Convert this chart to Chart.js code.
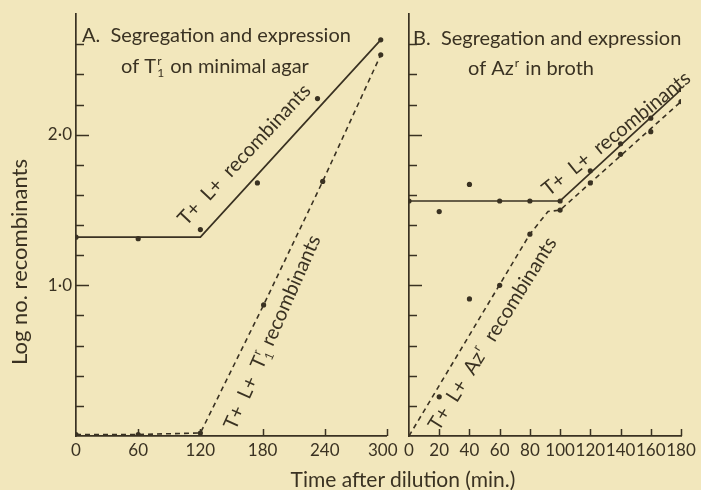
<!DOCTYPE html>
<html>
<head>
<meta charset="utf-8">
<script src="https://cdn.jsdelivr.net/npm/chart.js@4"></script>
<style>
	body { margin: 0; background: #f2e7bc; }
	#wrap { position: relative; width: 701px; height: 490px; background: #f2e7bc; overflow: hidden; }
	canvas { position: absolute; top: 0; }
	#chartA { left: 0; width: 410px; height: 490px; }
	#chartB { left: 390px; width: 311px; height: 490px; }
	#xtitle {
		position: absolute; left: 253px; width: 300px; top: 466px; line-height: 24px;
		text-align: center; white-space: nowrap;
		font: 21px Lato; color: #3a3222;
	}
</style>
</head>
<body>
<div id="wrap">
	<canvas id="chartA" width="410" height="490"></canvas>
	<canvas id="chartB" width="311" height="490"></canvas>
	<div id="xtitle">Time after dilution (min.)</div>
</div>
<script>
const ink = "#3a3222";
const fontName = "Lato";

// A. minimal agar - time (min.) and log no. recombinants
const aTicks = [0, 60, 120, 180, 240, 300];
const aTLTime = [0, 60, 120, 175, 233, 294];
const aTLLog = [1.32, 1.31, 1.37, 1.68, 2.24, 2.63];
const aTLFitTime = [0, 120, 294];
const aTLFitLog = [1.32, 1.32, 2.63];
const aT1Time = [0, 60, 120, 181, 238, 294];
const aT1Log = [0.01, 0.01, 0.02, 0.87, 1.69, 2.53];

// B. broth
const bTicks = [0, 20, 40, 60, 80, 100, 120, 140, 160, 180];
const bTLTime = [0, 20, 40, 60, 80, 100, 120, 140, 160, 180];
const bTLLog = [1.56, 1.49, 1.67, 1.56, 1.56, 1.56, 1.76, 1.94, 2.11, 2.30];
const bTLFitTime = [0, 100, 180];
const bTLFitLog = [1.56, 1.56, 2.30];
const bAzTime = [20, 40, 60, 80, 100, 120, 140, 160, 180];
const bAzLog = [0.26, 0.91, 1.00, 1.34, 1.50, 1.68, 1.87, 2.02, 2.22];
const bAzFitTime = [0, 80, 92, 100, 180];
const bAzFitLog = [0, 1.34, 1.49, 1.50, 2.22];

const yLabels = { 1: "1·0", 2: "2·0" };

Chart.defaults.font.family = fontName;
Chart.defaults.color = ink;

function pts(xs, ys) {
	return xs.map(function (x, i) {
		return { x: x, y: ys[i] };
	});
}

function isMajor(v) {
	return v > 0 && Math.abs(v - Math.round(v)) < 1e-6;
}

// text with stacked super/subscripts, e.g. T with 1 below and r above
function drawRich(ctx, parts, x, y, size, align) {
	const big = size + "px " + fontName;
	const small = Math.round(size * 0.62) + "px " + fontName;
	const widths = parts.map(function (p) {
		if (typeof p === "string") {
			ctx.font = big;
			return ctx.measureText(p).width;
		}
		ctx.font = small;
		const w1 = p.sup ? ctx.measureText(p.sup).width : 0;
		const w2 = p.sub ? ctx.measureText(p.sub).width : 0;
		return Math.max(w1, w2) + 2;
	});
	const total = widths.reduce(function (a, b) { return a + b; }, 0);
	let cx = align === "center" ? x - total / 2 : x;
	ctx.textAlign = "left";
	parts.forEach(function (p, i) {
		if (typeof p === "string") {
			ctx.font = big;
			ctx.fillText(p, cx, y);
		} else {
			ctx.font = small;
			if (p.sup) ctx.fillText(p.sup, cx + 1, y - size * 0.42);
			if (p.sub) ctx.fillText(p.sub, cx + 1, y + size * 0.22);
		}
		cx += widths[i];
	});
}

const inkPlugin = {
	id: "ink",
	afterDraw(chart, args, opts) {
		const ctx = chart.ctx;
		const area = chart.chartArea;
		const xs = chart.scales.x;
		const ys = chart.scales.y;
		ctx.save();
		ctx.strokeStyle = ink;
		ctx.fillStyle = ink;
		ctx.lineWidth = 1.5;

		// tick marks point inwards
		ys.ticks.forEach(function (t) {
			if (t.value <= 0 || t.value >= ys.max - 1e-6) return;
			const py = Math.round(ys.getPixelForValue(t.value)) + 0.5;
			const len = isMajor(t.value) ? 13 : 8;
			ctx.beginPath();
			ctx.moveTo(area.left, py);
			ctx.lineTo(area.left + len, py);
			ctx.stroke();
		});
		xs.ticks.forEach(function (t) {
			if (t.value <= xs.min) return;
			const px = Math.round(xs.getPixelForValue(t.value)) + 0.5;
			ctx.beginPath();
			ctx.moveTo(px, area.bottom);
			ctx.lineTo(px, area.bottom - 7);
			ctx.stroke();
		});

		ctx.textBaseline = "alphabetic";
		opts.heading.forEach(function (h) {
			drawRich(ctx, h.parts, area.left + h.dx, h.y, 20, h.align);
		});

		opts.labels.forEach(function (l) {
			const px = xs.getPixelForValue(l.at[0]);
			const py = ys.getPixelForValue(l.at[1]);
			ctx.save();
			ctx.translate(px, py);
			ctx.rotate(-l.angle * Math.PI / 180);
			drawRich(ctx, l.parts, 0, 7, 20, "center");
			ctx.restore();
		});

		if (opts.yTitle) {
			ctx.save();
			ctx.translate(20, 262);
			ctx.rotate(-Math.PI / 2);
			drawRich(ctx, [opts.yTitle], 0, 7, 22, "center");
			ctx.restore();
		}
		ctx.restore();
	},
};

function makeChart(id, cfg) {
	const datasets = [
		{
			data: cfg.tlFit,
			showLine: true,
			borderColor: ink,
			borderWidth: 1.7,
			pointRadius: 0,
		},
		{
			data: cfg.tlPoints,
			showLine: false,
			pointRadius: 2.6,
			pointBackgroundColor: ink,
			pointBorderWidth: 0,
		},
		{
			data: cfg.dashFit,
			showLine: true,
			borderColor: ink,
			borderWidth: 1.6,
			borderDash: [5, 4],
			pointRadius: 0,
		},
		{
			data: cfg.dashPoints,
			showLine: false,
			pointRadius: 2.6,
			pointBackgroundColor: ink,
			pointBorderWidth: 0,
		},
	];

	return new Chart(document.getElementById(id), {
		type: "scatter",
		data: { datasets: datasets },
		plugins: [inkPlugin],
		options: {
			responsive: false,
			animation: false,
			layout: { padding: { top: 12, right: cfg.padRight, bottom: 0, left: 0 } },
			scales: {
				x: {
					type: "linear",
					min: cfg.ticks[0],
					max: cfg.ticks[cfg.ticks.length - 1],
					afterBuildTicks: function (scale) {
						scale.ticks = cfg.ticks.map(function (v) { return { value: v }; });
					},
					afterFit: function (scale) { scale.height = 54; },
					grid: { display: false, drawTicks: false },
					border: { display: true, color: ink, width: 1.7 },
					ticks: {
						autoSkip: false,
						maxRotation: 0,
						padding: 4,
						color: ink,
						font: { size: 17 },
						callback: function (v) {
							// last label of panel A sits a little left, clear of panel B's 0
							return cfg.lastGap && v === cfg.ticks[cfg.ticks.length - 1]
								? v + "\u2002" : String(v);
						},
					},
				},
				y: {
					min: 0,
					max: 2.8,
					afterFit: function (scale) { scale.width = cfg.yWidth; },
					grid: { display: false, drawTicks: false },
					border: { display: true, color: ink, width: 1.7 },
					ticks: {
						stepSize: 0.2,
						padding: 4,
						color: ink,
						font: { size: 17 },
						callback: function (v) {
							if (!cfg.yLabels) return "";
							return yLabels[Math.round(v * 10) / 10] || "";
						},
					},
				},
			},
			plugins: {
				legend: { display: false },
				tooltip: { enabled: false },
				ink: {
					heading: cfg.heading,
					labels: cfg.labels,
					yTitle: cfg.yTitle,
				},
			},
		},
	});
}

makeChart("chartA", {
	ticks: aTicks,
	lastGap: true,
	padRight: 21,
	yWidth: 76,
	yLabels: true,
	yTitle: "Log no. recombinants",
	tlFit: pts(aTLFitTime, aTLFitLog),
	tlPoints: pts(aTLTime, aTLLog),
	dashFit: pts(aT1Time, aT1Log),
	dashPoints: pts(aT1Time, aT1Log),
	heading: [
		{ parts: ["A.  Segregation and expression"], dx: 6, y: 42, align: "left" },
		{ parts: ["of T", { sup: "r", sub: "1" }, " on minimal agar"], dx: 139, y: 73, align: "center" },
	],
	labels: [
		{ parts: ["T+  L+  recombinants"], at: [162, 1.87], angle: 47 },
		{ parts: ["T+  L+  T", { sup: "r", sub: "1" }, " recombinants"], at: [189, 0.69], angle: 66 },
	],
});

makeChart("chartB", {
	ticks: bTicks,
	lastGap: false,
	padRight: 20,
	yWidth: 19,
	yLabels: false,
	tlFit: pts(bTLFitTime, bTLFitLog),
	tlPoints: pts(bTLTime, bTLLog),
	dashFit: pts(bAzFitTime, bAzFitLog),
	dashPoints: pts(bAzTime, bAzLog),
	heading: [
		{ parts: ["B.  Segregation and expression"], dx: 4, y: 45, align: "left" },
		{ parts: ["of Az", { sup: "r" }, " in broth"], dx: 122, y: 75, align: "center" },
	],
	labels: [
		{ parts: ["T+  L+  recombinants"], at: [137, 2.01], angle: 39 },
		{ parts: ["T+  L+  Az", { sup: "r" }, "  recombinants"], at: [55, 0.68], angle: 58 },
	],
});
</script>
</body>
</html>
